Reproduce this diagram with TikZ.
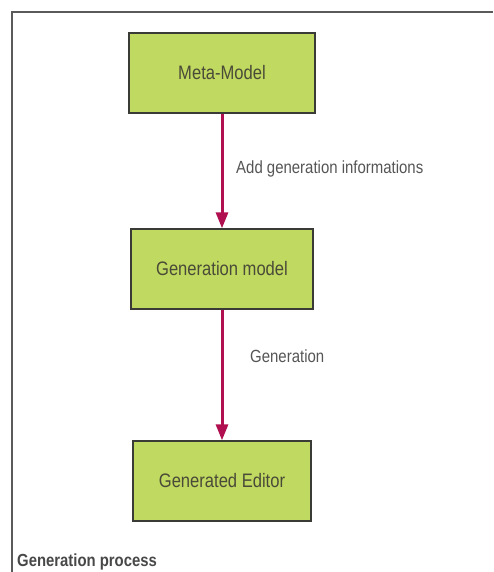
\documentclass[tikz,border=0pt]{standalone}
\usepackage{fontspec}
\setmainfont{Liberation Sans}
\newfontfamily\narrowsans[FakeStretch=0.85]{Liberation Sans}
\usetikzlibrary{arrows.meta}
\definecolor{boxgreen}{HTML}{C0D960}
\definecolor{boxedge}{HTML}{3A3A36}
\definecolor{boxtext}{HTML}{4A4A38}
\definecolor{arrowred}{HTML}{B0104F}
\definecolor{labelgray}{HTML}{555555}
\definecolor{framegray}{HTML}{5A5A5A}
\tikzset{
  stepbox/.style={draw=boxedge, line width=1.3pt, fill=boxgreen, inner sep=0pt,
    text=boxtext, font=\narrowsans\fontsize{19.5}{22}\selectfont},
  flow/.style={draw=arrowred, line width=3pt, -{Triangle[length=16pt,width=12pt]}},
  lbl/.style={text=labelgray, inner sep=0pt, font=\narrowsans\fontsize{17.6}{21}\selectfont},
}
\begin{document}
\begin{tikzpicture}[x=1pt,y=-1pt]
\useasboundingbox (0,0) rectangle (493,572);
% frame
\draw[framegray, line width=1.5pt] (12,572) -- (12,12) -- (493,12);
% boxes
\node[stepbox, minimum width=186pt, minimum height=80pt] (meta) at (222,73) {Meta-Model};
\node[stepbox, minimum width=182pt, minimum height=80pt] (genmodel) at (222,269) {Generation model};
\node[stepbox, minimum width=178pt, minimum height=80pt] (editor) at (222,481) {Generated Editor};
% arrows
\draw[flow] (meta.south) -- (genmodel.north);
\draw[flow] (genmodel.south) -- (editor.north);
% labels
\node[lbl, anchor=base west] (l1) at (236,173) {Add generation informations};
\node[lbl, anchor=base west] (l2) at (250,362) {Generation};
\node[inner sep=0pt, anchor=base west, text=framegray!80!black, font=\narrowsans\bfseries\fontsize{17.5}{20}\selectfont] (title) at (17,566) {Generation process};
\end{tikzpicture}
\end{document}
